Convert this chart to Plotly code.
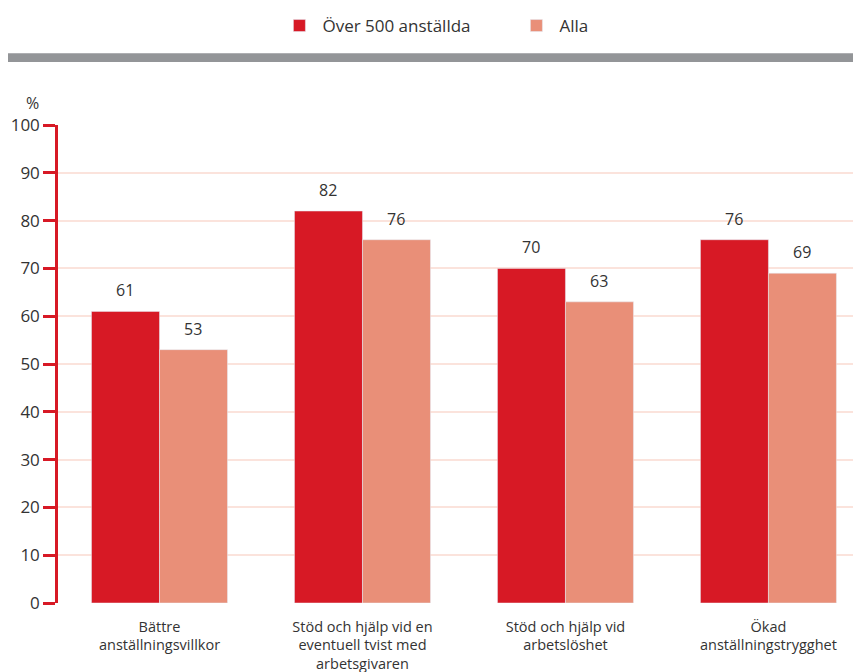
import plotly.graph_objects as go

categories = ["Bättre<br>anställningsvillkor",
              "Stöd och hjälp vid en<br>eventuell tvist med<br>arbetsgivaren",
              "Stöd och hjälp vid<br>arbetslöshet",
              "Ökad<br>anställningstrygghet"]
over500 = [61, 82, 70, 76]
alla = [53, 76, 63, 69]
series_names = ["Över 500 anställda", "Alla"]
y_ticks = [0, 10, 20, 30, 40, 50, 60, 70, 80, 90, 100]

RED = "#d71925"
SALMON = "#e98f78"
TXT = "#333333"
FONT = "Open Sans"

fig = go.Figure()
fig.add_trace(go.Bar(x=categories, y=over500, name=series_names[0], marker_color=RED))
fig.add_trace(go.Bar(x=categories, y=alla, name=series_names[1], marker_color=SALMON))

ann = []
for vals, shift in ((over500, -34), (alla, 34)):
    for c, v in zip(categories, vals):
        ann.append(dict(x=c, y=v, text=str(v), showarrow=False, xshift=shift,
                        yanchor="bottom", yshift=8,
                        font=dict(family=FONT, size=16, color=TXT)))
ann.append(dict(xref="paper", yref="paper", x=-0.032, y=1.047, text="%", showarrow=False,
                xanchor="center", yanchor="middle", font=dict(family=FONT, size=16, color=TXT)))

fig.update_layout(
    width=853, height=664,
    margin=dict(l=50, r=0, t=116, b=69),
    plot_bgcolor="white", paper_bgcolor="white",
    barmode="group", bargap=0.33, bargroupgap=0,
    font=dict(family=FONT, color=TXT),
    legend=dict(orientation="h", x=0.272, xanchor="left", y=1.207, yanchor="middle",
                font=dict(family=FONT, size=17, color=TXT),
                itemwidth=36, entrywidth=186),
    annotations=ann,
    shapes=[dict(type="rect", xref="paper", yref="paper", x0=-0.066, x1=1,
                 y0=1.132, y1=1.150, fillcolor="#939598", line_width=0, layer="above")],
    xaxis=dict(showline=False, ticks="", ticklabelstandoff=13, range=[-0.5, 3.456],
               automargin=False,
               tickfont=dict(family=FONT, size=14.5, color=TXT)),
    yaxis=dict(range=[0, 100], tickvals=y_ticks, showgrid=True, gridcolor="#fbe3dc", gridwidth=2,
               showline=True, linecolor=RED, linewidth=2.5,
               ticks="outside", ticklen=12, tickwidth=2.5, tickcolor=RED,
               zeroline=False, automargin=False,
               tickfont=dict(family=FONT, size=17, color=TXT)),
)

fig.write_html("out.html")
